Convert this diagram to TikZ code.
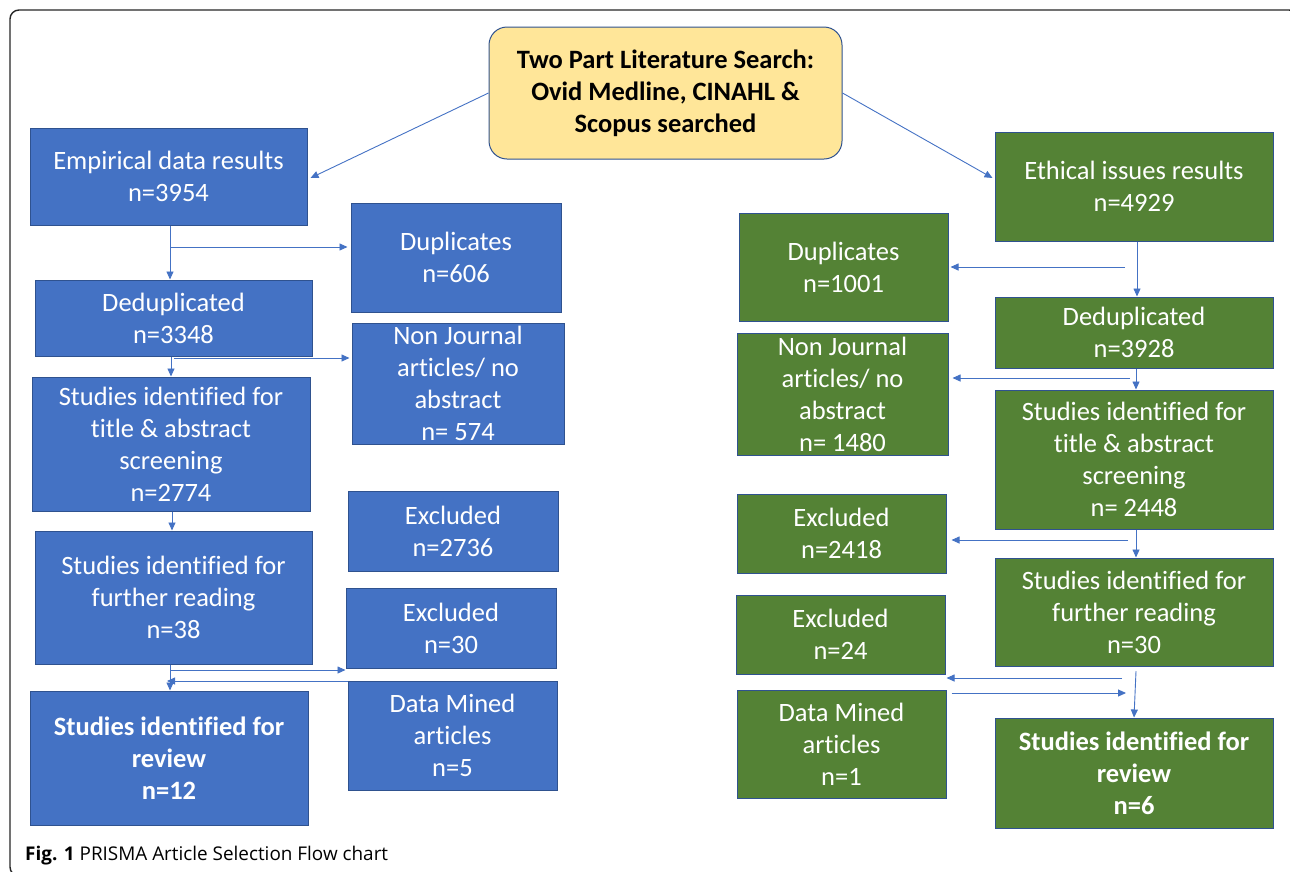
\documentclass[tikz,border=0pt]{standalone}
\usepackage{fontspec}
\setmainfont{Carlito}[Ligatures=NoCommon]
\newfontfamily\capfont{Open Sans}
\usetikzlibrary{arrows.meta}
\definecolor{bfill}{HTML}{4472C4}
\definecolor{gfill}{HTML}{548235}
\definecolor{yfill}{HTML}{FFE699}
\definecolor{edge}{HTML}{2F528F}
\definecolor{conn}{HTML}{4472C4}
\tikzset{
  boxbase/.style={draw=edge, line width=1pt, text=white, align=center, inner sep=0pt,
    font=\fontsize{26.5}{32}\selectfont},
  bbox/.style={boxbase, fill=bfill},
  gbox/.style={boxbase, fill=gfill},
  boldtxt/.style={font=\fontsize{26.5}{32}\selectfont\bfseries},
  ybox/.style={draw=edge, line width=1pt, fill=yfill, rounded corners=18pt, text=black,
    align=center, inner sep=0pt, boldtxt},
  arr/.style={draw=conn, line width=0.9pt, -{Triangle[length=8pt,width=7pt]}},
}
\begin{document}
\begin{tikzpicture}[x=1pt,y=-1pt]
\useasboundingbox (0,0) rectangle (1290,871);
\draw[line width=1.4pt, black!85, rounded corners=9pt] (10,10) rectangle (1298,876);

% top
\node[ybox, minimum width=353pt, minimum height=132pt] (yel) at (665.5,93)
  {Two Part Literature Search:\\Ovid Medline, CINAHL \&\\Scopus searched};

% left column
\node[bbox, minimum width=277pt, minimum height=97pt] (empL) at (168.5,176.5) {Empirical data results\\n=3954};
\node[bbox, minimum width=210pt, minimum height=109pt] (dupL) at (456,257.5) {Duplicates\\n=606};
\node[bbox, minimum width=277pt, minimum height=76pt] (dedL) at (173.5,318) {Deduplicated\\n=3348};
\node[bbox, minimum width=212pt, minimum height=121pt] (njL) at (458,383.5) {Non Journal\\articles/ no\\abstract\\n= 574};
\node[bbox, minimum width=278pt, minimum height=134pt] (titL) at (171,444) {Studies identified for\\title \& abstract\\screening\\n=2774};
\node[bbox, minimum width=210pt, minimum height=80pt] (ex1L) at (453,531) {Excluded\\n=2736};
\node[bbox, minimum width=277pt, minimum height=133pt] (furL) at (173.5,597.5) {Studies identified for\\further reading\\n=38};
\node[bbox, minimum width=210pt, minimum height=80pt] (ex2L) at (451,628) {Excluded\\n=30};
\node[bbox, boldtxt, minimum width=278pt, minimum height=134pt] (revL) at (169,758) {Studies identified for\\review\\n=12};
\node[bbox, minimum width=209pt, minimum height=109pt] (dmL) at (452.5,735.5) {Data Mined\\articles\\n=5};

% right column
\node[gbox, minimum width=278pt, minimum height=109pt] (ethR) at (1134,186.5) {Ethical issues results\\n=4929};
\node[gbox, minimum width=209pt, minimum height=108pt] (dupR) at (843.5,267) {Duplicates\\n=1001};
\node[gbox, minimum width=278pt, minimum height=71pt] (dedR) at (1134,332.5) {Deduplicated\\n=3928};
\node[gbox, minimum width=211pt, minimum height=122pt] (njR) at (842.5,394) {Non Journal\\articles/ no\\abstract\\n= 1480};
\node[gbox, minimum width=278pt, minimum height=139pt] (titR) at (1134,459.5) {Studies identified for\\title \& abstract\\screening\\n= 2448};
\node[gbox, minimum width=209pt, minimum height=79pt] (ex1R) at (841.5,533.5) {Excluded\\n=2418};
\node[gbox, minimum width=278pt, minimum height=108pt] (furR) at (1134,612) {Studies identified for\\further reading\\n=30};
\node[gbox, minimum width=209pt, minimum height=79pt] (ex2R) at (840.5,634.5) {Excluded\\n=24};
\node[gbox, minimum width=209pt, minimum height=108pt] (dmR) at (841.5,744) {Data Mined\\articles\\n=1};
\node[gbox, boldtxt, minimum width=278pt, minimum height=110pt] (revR) at (1134,773) {Studies identified for\\review\\n=6};

% caption
\node[anchor=base west, inner sep=0pt, font=\capfont\fontsize{18.9}{22}\selectfont] (cap) at (25,860)
  {\textbf{Fig. 1} PRISMA Article Selection Flow chart};

% top connectors
\draw[arr] (yel.west) -- ([yshift=-1.5pt,xshift=3pt]empL.east);
\draw[arr] (yel.east) -- ([yshift=8.5pt,xshift=-2pt]ethR.west);

% left connectors
\coordinate (xa) at (170,0);
\coordinate (xb) at (171,0);
\coordinate (xc) at (172,0);
\coordinate (la) at (170,247);
\coordinate (lb) at (174,358);
\coordinate (lc) at (170,670);
\coordinate (ld) at (167,681);
\draw[arr] (empL.south -| xa) -- (dedL.north -| xa);
\draw[arr] (la) -- ([xshift=-3pt]la -| dupL.west);
\draw[arr] (dedL.south -| xb) -- (titL.north -| xb);
\draw[arr] (lb) -- ([xshift=-2pt]lb -| njL.west);
\draw[arr] (titL.south -| xc) -- (furL.north -| xc);
\draw[arr] (furL.south -| xa) -- (revL.north -| xa);
\draw[arr] (lc) -- (lc -| ex2L.west);
\draw[arr] (ld -| dmL.west) -- (ld);

% right connectors
\coordinate (xr1) at (1137,0);
\coordinate (xr2) at (1136,0);
\coordinate (ra) at (1125,267);
\coordinate (rb) at (1130,378);
\coordinate (rc) at (1128,540);
\coordinate (rd) at (1122,678);
\coordinate (re) at (1126,693);
\coordinate (rf) at (1136,671);
\coordinate (rg) at (1134,0);
\draw[arr] (ethR.south -| xr1) -- (dedR.north -| xr1);
\draw[arr] (ra) -- ([xshift=2pt]ra -| dupR.east);
\draw[arr] (dedR.south -| xr2) -- (titR.north -| xr2);
\draw[arr] (rb) -- ([xshift=4pt]rb -| njR.east);
\draw[arr] (titR.south -| xr2) -- (furR.north -| xr2);
\draw[arr] (rc) -- ([xshift=5pt]rc -| ex1R.east);
\draw[arr] (rf) -- (revR.north -| rg);
\draw[arr] (rd) -- ([xshift=1pt]rd -| ex2R.east);
\draw[arr] ([xshift=5pt]re -| dmR.east) -- (re);
\end{tikzpicture}
\end{document}
